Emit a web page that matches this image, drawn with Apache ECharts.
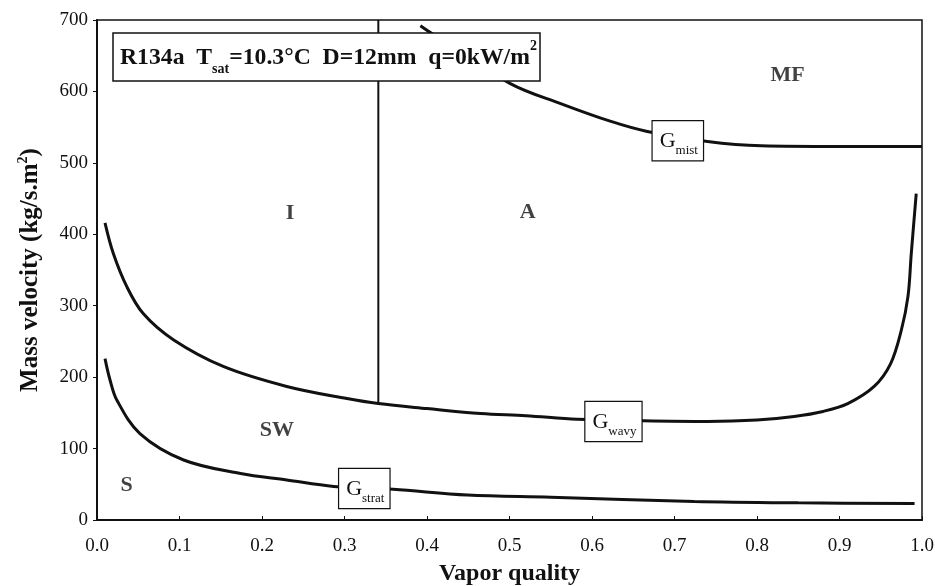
<!DOCTYPE html>
<html>
<head>
<meta charset="utf-8">
<title>R134a flow pattern map</title>
<script src="https://cdn.jsdelivr.net/npm/echarts@6/dist/echarts.min.js"></script>
<style>
  html, body { margin: 0; padding: 0; background: #fff; }
  #chart { width: 935px; height: 586px; }
</style>
</head>
<body>
<div id="chart"></div>
<script>
// Transition boundaries: vapor quality (x) vs mass velocity (kg/s.m2)
const wavyQuality = [0.0097, 0.0198, 0.036, 0.056, 0.093, 0.153, 0.23, 0.303, 0.341, 0.40, 0.465, 0.52, 0.582, 0.66, 0.74, 0.80, 0.845, 0.88, 0.91, 0.942, 0.962, 0.975, 0.983, 0.987, 0.993];
const wavyMass    = [416, 373, 327, 289, 252, 215, 187, 170, 163, 156, 149, 146, 141, 139, 138, 140, 145, 152, 163, 187, 219, 266, 313, 373, 457];

const stratQuality = [0.0097, 0.0158, 0.024, 0.052, 0.105, 0.174, 0.23, 0.287, 0.359, 0.449, 0.55, 0.724, 0.85, 0.991];
const stratMass    = [226, 196, 168, 121, 84, 65, 56, 47, 43, 35, 32, 26, 24, 23];

const mistQuality = [0.392, 0.406, 0.501, 0.562, 0.623, 0.667, 0.74, 0.805, 0.9, 1.0];
const mistMass    = [692, 681, 611, 583, 558, 544, 530, 524, 523, 523];

// Intermittent / annular boundary
const iaQuality = [0.341, 0.341];
const iaMass    = [700, 163];

// Flow regime names and where they sit
const regimeNames   = ['I', 'A', 'MF', 'SW', 'S'];
const regimeQuality = [0.234, 0.522, 0.837, 0.218, 0.036];
const regimeMass    = [430, 431, 623, 126, 49];

// Curve tags: [quality, mass velocity, subscript]
const curveTags = {
  mist:  [0.704, 531, 'mist'],
  wavy:  [0.626, 138, 'wavy'],
  strat: [0.324, 44, 'strat']
};

const SERIF = "'Liberation Serif', 'Times New Roman', Times, serif";
const INK = '#111';

const zip = (xs, ys) => xs.map((x, i) => [x, ys[i]]);

function tag(key) {
  const t = curveTags[key];
  return {
    symbol: 'rect',
    symbolSize: 1,
    itemStyle: { color: 'rgba(0,0,0,0)' },
    label: {
      show: true,
      position: 'inside',
      formatter: '{g|G}{s|' + t[2] + '}',
      backgroundColor: '#fff',
      borderColor: INK,
      borderWidth: 1.2,
      padding: [5, 5, 3, 7],
      rich: {
        g: { fontFamily: SERIF, fontSize: 22, color: INK, lineHeight: 31, verticalAlign: 'middle' },
        s: { fontFamily: SERIF, fontSize: 13, color: INK, lineHeight: 31, verticalAlign: 'bottom' }
      }
    },
    data: [{ coord: [t[0], t[1]] }]
  };
}

const lineBase = {
  type: 'line',
  showSymbol: false,
  symbol: 'none',
  smooth: 0.35,
  lineStyle: { color: INK, width: 3 },
  z: 3
};

const chart = echarts.init(document.getElementById('chart'), null, { renderer: 'canvas' });

chart.setOption({
  animation: false,
  backgroundColor: '#fff',
  title: {
    text: '{b|R134a  T}{sub|sat}{b|=10.3°C  D=12mm  q=0kW/m}{sup|2}',
    left: 113,
    top: 33,
    backgroundColor: '#fff',
    borderColor: INK,
    borderWidth: 1.5,
    padding: [6, 3, 5, 7],
    textStyle: {
      rich: {
        b:   { fontFamily: SERIF, fontWeight: 'bold', fontSize: 23.7, color: INK, lineHeight: 37, verticalAlign: 'middle' },
        sub: { fontFamily: SERIF, fontWeight: 'bold', fontSize: 14, color: INK, lineHeight: 37, verticalAlign: 'bottom' },
        sup: { fontFamily: SERIF, fontWeight: 'bold', fontSize: 14, color: INK, lineHeight: 37, verticalAlign: 'top' }
      }
    },
    z: 10
  },
  grid: {
    left: 97, right: 13, top: 20, bottom: 66,
    outerBoundsMode: 'none',
    containLabel: false,
    show: true,
    borderColor: INK,
    borderWidth: 1.5,
    backgroundColor: 'rgba(0,0,0,0)'
  },
  xAxis: {
    type: 'value',
    min: 0, max: 1, interval: 0.1,
    name: 'Vapor quality',
    nameLocation: 'middle',
    nameGap: 42,
    nameTextStyle: { fontFamily: SERIF, fontWeight: 'bold', fontSize: 24, color: INK },
    axisLine: { lineStyle: { color: INK, width: 2 } },
    axisTick: { inside: true, length: 4, lineStyle: { color: INK } },
    axisLabel: {
      fontFamily: SERIF, fontSize: 19, color: INK, margin: 17,
      formatter: v => v.toFixed(1)
    },
    splitLine: { show: false }
  },
  yAxis: {
    type: 'value',
    min: 0, max: 700, interval: 100,
    name: '{t|Mass velocity (kg/s.m}{p|2}{t|)}',
    nameLocation: 'middle',
    nameGap: 51,
    nameTextStyle: {
      rich: {
        t: { fontFamily: SERIF, fontWeight: 'bold', fontSize: 25, color: INK, lineHeight: 30, verticalAlign: 'middle' },
        p: { fontFamily: SERIF, fontWeight: 'bold', fontSize: 14, color: INK, lineHeight: 30, verticalAlign: 'top' }
      }
    },
    axisLine: { lineStyle: { color: INK, width: 2 } },
    axisTick: { inside: false, length: 4, lineStyle: { color: INK } },
    axisLabel: { fontFamily: SERIF, fontSize: 19, color: INK, margin: 9 },
    splitLine: { show: false }
  },
  series: [
    Object.assign({}, lineBase, {
      name: 'G_wavy',
      data: zip(wavyQuality, wavyMass),
      markPoint: tag('wavy')
    }),
    Object.assign({}, lineBase, {
      name: 'G_strat',
      data: zip(stratQuality, stratMass),
      markPoint: tag('strat')
    }),
    Object.assign({}, lineBase, {
      name: 'G_mist',
      data: zip(mistQuality, mistMass),
      markPoint: tag('mist')
    }),
    Object.assign({}, lineBase, {
      name: 'I-A',
      smooth: false,
      lineStyle: { color: INK, width: 2 },
      data: zip(iaQuality, iaMass)
    }),
    {
      name: 'regimes',
      type: 'scatter',
      symbolSize: 0,
      silent: true,
      label: {
        show: true,
        position: 'inside',
        formatter: p => p.data[2],
        fontFamily: SERIF,
        fontWeight: 'bold',
        fontSize: 22,
        color: INK
      },
      data: regimeQuality.map((x, i) => [x, regimeMass[i], regimeNames[i]]),
      z: 4
    }
  ]
});
</script>
</body>
</html>
